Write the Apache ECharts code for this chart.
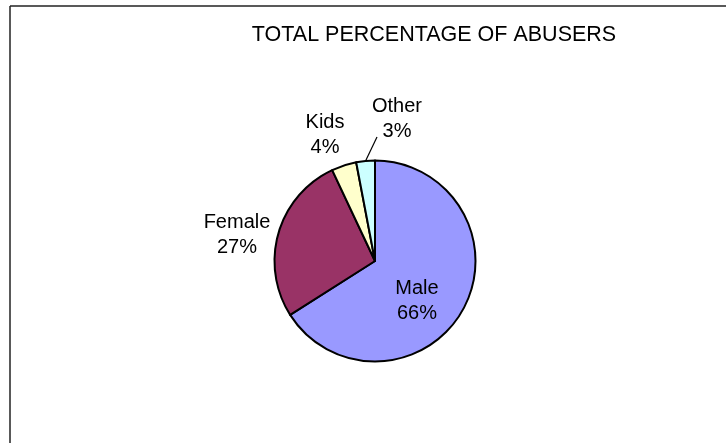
<!DOCTYPE html>
<html>
<head>
<meta charset="utf-8">
<script src="https://cdn.jsdelivr.net/npm/echarts@6/dist/echarts.min.js"></script>
<style>
  html, body { margin: 0; padding: 0; background: #fff; }
  #chart { width: 726px; height: 443px; }
</style>
</head>
<body>
<div id="chart"></div>
<script>
// Share of abusers by group, in percent
const categories = ['Male', 'Female', 'Kids', 'Other'];
const shares = [66, 27, 4, 3];
const sliceColors = ['#9999FF', '#993366', '#FFFFCC', '#CCFFFF'];

const FONT = '"Liberation Sans", Arial, sans-serif';

// Where each two-line label block is centred (px); only "Other" gets a leader line
const labelSpots = {
  Male:   { x: 417, y: 300.5, line: false },
  Female: { x: 237, y: 235,   line: false },
  Kids:   { x: 325, y: 135,   line: false },
  Other:  { x: 397, y: 119,   line: true }
};

const chart = echarts.init(document.getElementById('chart'), null, { renderer: 'canvas' });

const data = categories.map((name, i) => ({
  name: name,
  value: shares[i],
  itemStyle: { color: sliceColors[i] },
  labelLine: { show: labelSpots[name].line }
}));

chart.setOption({
  animation: false,
  backgroundColor: '#ffffff',
  title: {
    text: 'TOTAL PERCENTAGE OF ABUSERS',
    left: 429,
    textAlign: 'center',
    top: 19,
    textStyle: { fontFamily: FONT, fontSize: 21.5, fontWeight: 'normal', color: '#000' }
  },
  graphic: [
    { type: 'line', shape: { x1: 10, y1: 6, x2: 726, y2: 6 }, style: { stroke: '#222', lineWidth: 1.5 } },
    { type: 'line', shape: { x1: 10, y1: 6, x2: 10, y2: 443 }, style: { stroke: '#222', lineWidth: 1.5 } }
  ],
  series: [{
    type: 'pie',
    center: [375, 261],
    radius: 100.5,
    startAngle: 90,
    clockwise: true,
    avoidLabelOverlap: false,
    data: data,
    itemStyle: { borderColor: '#000', borderWidth: 2 },
    label: {
      show: true,
      position: 'outside',
      formatter: (p) => p.name + '\n' + Math.round(p.percent) + '%',
      fontFamily: FONT,
      fontSize: 20,
      lineHeight: 25,
      color: '#000',
      align: 'center'
    },
    labelLine: { length: 12, length2: 0, lineStyle: { color: '#000', width: 1.2 } },
    labelLayout: (p) => {
      const spot = labelSpots[categories[p.dataIndex]];
      const res = { x: spot.x, y: spot.y, align: 'center', verticalAlign: 'middle', hideOverlap: false, moveOverlap: false };
      if (spot.line && p.labelLinePoints) {
        const start = p.labelLinePoints[0];
        const end = [spot.x - 20, spot.y + 18];
        res.labelLinePoints = [start, end, end];
      }
      return res;
    },
    emphasis: { disabled: true }
  }]
});
</script>
</body>
</html>
